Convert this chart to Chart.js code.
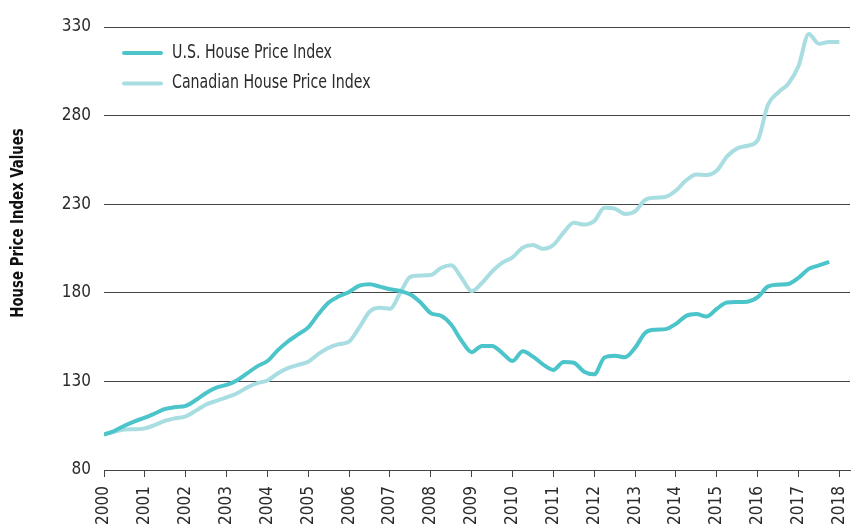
<!DOCTYPE html>
<html>
<head>
<meta charset="utf-8">
<script src="https://cdn.jsdelivr.net/npm/chart.js@4/dist/chart.umd.min.js"></script>
<style>
  html, body { margin: 0; padding: 0; background: #fff; }
  #wrap { position: relative; width: 853px; height: 526px; }
</style>
</head>
<body>
<div id="wrap"><canvas id="hpiChart"></canvas></div>
<script>
// Quarterly index values, 2000 Q1 = 100
const startYear = 2000;
const yearTicks = [2000, 2001, 2002, 2003, 2004, 2005, 2006, 2007, 2008, 2009,
                   2010, 2011, 2012, 2013, 2014, 2015, 2016, 2017, 2018];
const yTicks = [80, 130, 180, 230, 280, 330];

const usIndex = [
  100, 102, 105, 107.5, 109.5, 112, 114.5, 115.5,
  116.2, 119.5, 123.5, 126.5, 128, 130.5, 134.5, 138.5,
  141.5, 147.5, 152.5, 156.5, 160.5, 168, 174.5, 178,
  180.5, 184, 184.8, 183.5, 182, 181, 179, 174.5,
  168.5, 167, 162, 153, 146.5, 150, 150, 146,
  141.5, 147, 144, 139.5, 136.5, 141, 140.5, 135.5,
  134, 143.5, 144.5, 143.6, 149, 157.5, 159.2, 159.5,
  162.5, 167, 168, 166.6, 171, 174.5, 174.8, 175,
  177.5, 183.5, 184.6, 185, 188.5, 193.5, 195.5, 197.5
];

const canadaIndex = [
  100, 101.5, 102.8, 103, 103.5, 105.5, 107.8, 109.2,
  110.2, 113.5, 117, 119, 121, 123.2, 126.5, 129,
  130.5, 134.5, 137.5, 139.3, 141.1, 145.5, 149, 151,
  152.5, 160.5, 169.3, 171.5, 171, 180, 189, 189.7,
  190, 194, 195.5, 188.5, 181, 185.5, 192, 197,
  200, 205.5, 207, 204.8, 207, 214, 219.5, 218.5,
  220.5, 228, 227.5, 224.5, 226, 232.5, 233.7, 234.2,
  237.7, 243.5, 246.8, 246.5, 249, 257, 261.5, 263,
  266, 286, 293, 298, 308, 326, 320.5, 321.6, 321.5
];

const quarters = canadaIndex.map((_, i) => startYear + i / 4);

const FONT = '"Liberation Sans Narrow", "DejaVu Sans Condensed", "Roboto", sans-serif';
const GRID = '#444';
const TEXT = '#2b2b2b';

// Stacked legend inside the plot and the y-axis title (squeezed a bit to look condensed)
const overlay = {
  id: 'overlay',
  afterDraw(chart) {
    const ctx = chart.ctx;
    ctx.save();
    chart.data.datasets.forEach((ds, i) => {
      const y = 53 + i * 30.5;
      ctx.strokeStyle = ds.borderColor;
      ctx.lineWidth = 4;
      ctx.lineCap = 'round';
      ctx.beginPath();
      ctx.moveTo(124, y);
      ctx.lineTo(161, y);
      ctx.stroke();
      ctx.save();
      ctx.translate(172, y);
      ctx.scale(0.83, 1);
      ctx.fillStyle = TEXT;
      ctx.font = '19px ' + FONT;
      ctx.textBaseline = 'middle';
      ctx.fillText(ds.label, 0, 0);
      ctx.restore();
    });
    ctx.translate(19, 223);
    ctx.rotate(-Math.PI / 2);
    ctx.scale(0.87, 1);
    ctx.font = 'bold 17px ' + FONT;
    ctx.textAlign = 'center';
    ctx.textBaseline = 'middle';
    ctx.fillStyle = '#111';
    ctx.fillText('House Price Index Values', 0, 0);
    ctx.restore();
  }
};

new Chart(document.getElementById('hpiChart'), {
  type: 'line',
  data: {
    labels: quarters,
    datasets: [
      {
        label: 'U.S. House Price Index',
        data: usIndex,
        borderColor: '#4bc4ca',
        borderWidth: 4,
        pointRadius: 0,
        cubicInterpolationMode: 'monotone'
      },
      {
        label: 'Canadian House Price Index',
        data: canadaIndex,
        borderColor: '#a8dde1',
        borderWidth: 4,
        pointRadius: 0,
        cubicInterpolationMode: 'monotone'
      }
    ]
  },
  options: {
    responsive: true,
    maintainAspectRatio: false,
    animation: false,
    layout: { padding: { top: 27, right: 3, left: 0, bottom: 0 } },
    plugins: {
      legend: { display: false },
      tooltip: { enabled: false }
    },
    scales: {
      x: {
        type: 'linear',
        min: 2000,
        max: 2018.26,
        afterBuildTicks: (axis) => { axis.ticks = yearTicks.map(v => ({ value: v })); },
        afterFit: (axis) => {
          axis.height = 56;
          axis.paddingLeft = 0;
          axis.paddingRight = 0;
        },
        grid: { drawOnChartArea: false, drawTicks: true, tickLength: 7, color: GRID, lineWidth: 1 },
        border: { display: true, color: GRID, width: 1 },
        ticks: {
          includeBounds: false,
          autoSkip: false,
          minRotation: 90,
          maxRotation: 90,
          padding: 9,
          color: TEXT,
          font: { family: FONT, size: 17 },
          callback: (v) => String(v)
        }
      },
      y: {
        min: 80,
        max: 330,
        afterBuildTicks: (axis) => { axis.ticks = yTicks.map(v => ({ value: v })); },
        afterFit: (axis) => { axis.width = 104; },
        grid: { drawTicks: false, color: GRID, lineWidth: 1 },
        border: { display: false },
        ticks: {
          padding: 13,
          color: TEXT,
          font: { family: FONT, size: 17 }
        }
      }
    }
  },
  plugins: [overlay]
});
</script>
</body>
</html>
